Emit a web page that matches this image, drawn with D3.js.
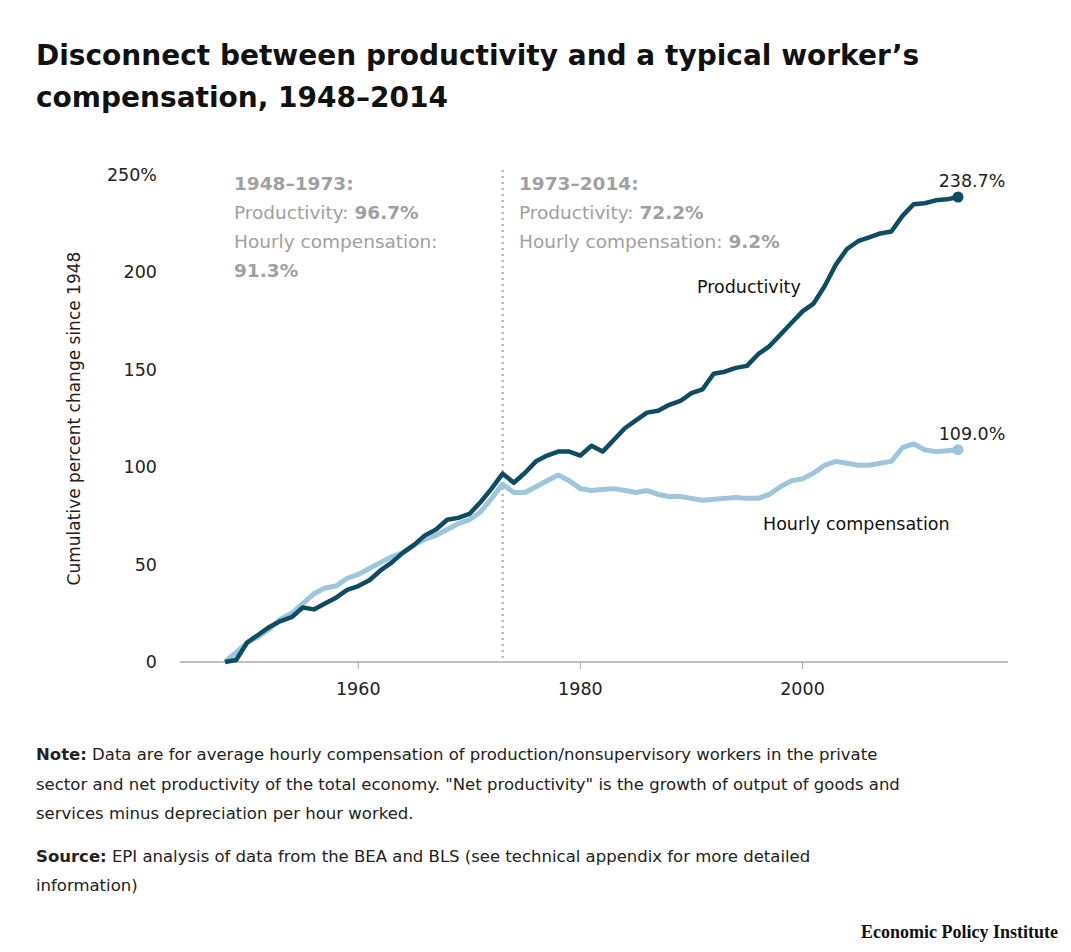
<!DOCTYPE html>
<html>
<head>
<meta charset="utf-8">
<script src="https://cdn.jsdelivr.net/npm/d3@7"></script>
<style>
  body { margin: 0; background: #fff; font-family: "DejaVu Sans", sans-serif; }
  svg text { font-family: "DejaVu Sans", sans-serif; }
</style>
</head>
<body>
<svg id="chart" width="1071" height="952"></svg>
<script>
const years = d3.range(1948, 2015);
const productivity = [0, 1, 10, 14, 18, 21, 23, 28, 27, 30, 33, 37, 39, 42, 47, 51, 56, 60, 65, 68, 73, 74, 76, 82, 89, 96.7,
  92, 97, 103, 106, 108, 108, 106, 111, 108, 114, 120, 124, 128, 129, 132, 134, 138, 140, 148, 149, 151, 152, 158, 162,
  168, 174, 180, 184, 193, 204, 212, 216, 218, 220, 221, 229, 235, 235.5, 237, 237.5, 238.7];
const compensation = [0, 5, 10, 13, 17, 22, 25, 30, 35, 38, 39, 43, 45, 48, 51, 54, 56, 60, 63, 65, 68, 71, 73, 77, 84, 91.3,
  87, 87, 90, 93, 96, 93, 89, 88, 88.5, 89, 88, 87, 88, 86, 85, 85, 84, 83, 83.5, 84, 84.5, 84, 84, 86,
  90, 93, 94, 97, 101, 103, 102, 101, 101, 102, 103, 110, 112, 109, 108, 108.5, 109];
const yTicks = [0, 50, 100, 150, 200, 250];
const xTicks = [1960, 1980, 2000];

const svg = d3.select("#chart");
const x = d3.scaleLinear().domain([1948, 2014]).range([225, 958]);
const y = d3.scaleLinear().domain([0, 250]).range([662, 175]);
const dark = "#0d4c63", light = "#9dc6dc";

svg.append("text").attr("x", 36).attr("y", 65).text("Disconnect between productivity and a typical worker’s")
  .style("font-size", "28px").style("font-weight", 700).style("fill", "#111");
svg.append("text").attr("x", 36).attr("y", 107).text("compensation, 1948–2014")
  .style("font-size", "28px").style("font-weight", 700).style("fill", "#111");

// axes
svg.append("line").attr("x1", 180).attr("x2", 1008).attr("y1", y(0)).attr("y2", y(0)).attr("stroke", "#aaa").attr("stroke-width", 1.5);
yTicks.forEach(t => {
  svg.append("text").attr("x", 157).attr("y", y(t) + 6).attr("text-anchor", "end")
    .text(t === 250 ? "250%" : t).style("font-size", "17.5px").style("fill", "#222");
});
xTicks.forEach(t => {
  svg.append("line").attr("x1", x(t)).attr("x2", x(t)).attr("y1", y(0)).attr("y2", y(0) + 7).attr("stroke", "#aaa");
  svg.append("text").attr("x", x(t)).attr("y", y(0) + 33).attr("text-anchor", "middle").text(t)
    .style("font-size", "17.5px").style("fill", "#222");
});
svg.append("text").attr("transform", `translate(80,${y(125)}) rotate(-90)`).attr("text-anchor", "middle")
  .text("Cumulative percent change since 1948").style("font-size", "17px").style("fill", "#222");

// divider
svg.append("line").attr("x1", x(1973)).attr("x2", x(1973)).attr("y1", 170).attr("y2", y(0))
  .attr("stroke", "#aaa").attr("stroke-width", 2).attr("stroke-dasharray", "2,4");

// period annotations
const grey = "#a0a0a0";
function note(x0, lines) {
  lines.forEach((l, i) => {
    const t = svg.append("text").attr("x", x0).attr("y", 190 + i * 29).style("font-size", "18.5px").style("fill", grey);
    l.forEach(([s, bold]) => t.append("tspan").text(s).style("font-weight", bold ? 700 : 400));
  });
}
note(234, [[["1948–1973:", true]], [["Productivity: ", false], ["96.7%", true]], [["Hourly compensation:", false]], [["91.3%", true]]]);
note(519, [[["1973–2014:", true]], [["Productivity: ", false], ["72.2%", true]], [["Hourly compensation: ", false], ["9.2%", true]]]);

// lines
const line = arr => d3.line().x((d, i) => x(years[i])).y(d => y(d))(arr);
svg.append("path").attr("d", line(compensation)).attr("fill", "none").attr("stroke", light).attr("stroke-width", 5).attr("stroke-linejoin", "round");
svg.append("path").attr("d", line(productivity)).attr("fill", "none").attr("stroke", dark).attr("stroke-width", 4.5).attr("stroke-linejoin", "round");
svg.append("circle").attr("cx", x(2014)).attr("cy", y(238.7)).attr("r", 5.5).attr("fill", dark);
svg.append("circle").attr("cx", x(2014)).attr("cy", y(109)).attr("r", 5.5).attr("fill", light);

svg.append("text").attr("x", 972).attr("y", y(238.7) - 10).attr("text-anchor", "middle").text("238.7%").style("font-size", "17.5px").style("fill", "#222");
svg.append("text").attr("x", 972).attr("y", y(109) - 10).attr("text-anchor", "middle").text("109.0%").style("font-size", "17.5px").style("fill", "#222");
svg.append("text").attr("x", 697).attr("y", 293).text("Productivity").style("font-size", "17.5px").style("fill", "#111");
svg.append("text").attr("x", 763).attr("y", 530).text("Hourly compensation").style("font-size", "17.5px").style("fill", "#111");

// notes
const foot = [
  [760, [["Note:", true], [" Data are for average hourly compensation of production/nonsupervisory workers in the private", false]]],
  [790, [["sector and net productivity of the total economy. \"Net productivity\" is the growth of output of goods and", false]]],
  [819, [["services minus depreciation per hour worked.", false]]],
  [862, [["Source:", true], [" EPI analysis of data from the BEA and BLS (see technical appendix for more detailed", false]]],
  [891, [["information)", false]]]
];
foot.forEach(([yy, parts]) => {
  const t = svg.append("text").attr("x", 36).attr("y", yy).style("font-size", "16.5px").style("fill", "#222");
  parts.forEach(([s, b]) => t.append("tspan").text(s).style("font-weight", b ? 700 : 400));
});
svg.append("text").attr("x", 1058).attr("y", 938).attr("text-anchor", "end").text("Economic Policy Institute")
  .style("font-family", "'Liberation Serif', 'DejaVu Serif', serif").style("font-size", "18px").style("font-weight", 700).style("fill", "#111");
</script>
</body>
</html>
